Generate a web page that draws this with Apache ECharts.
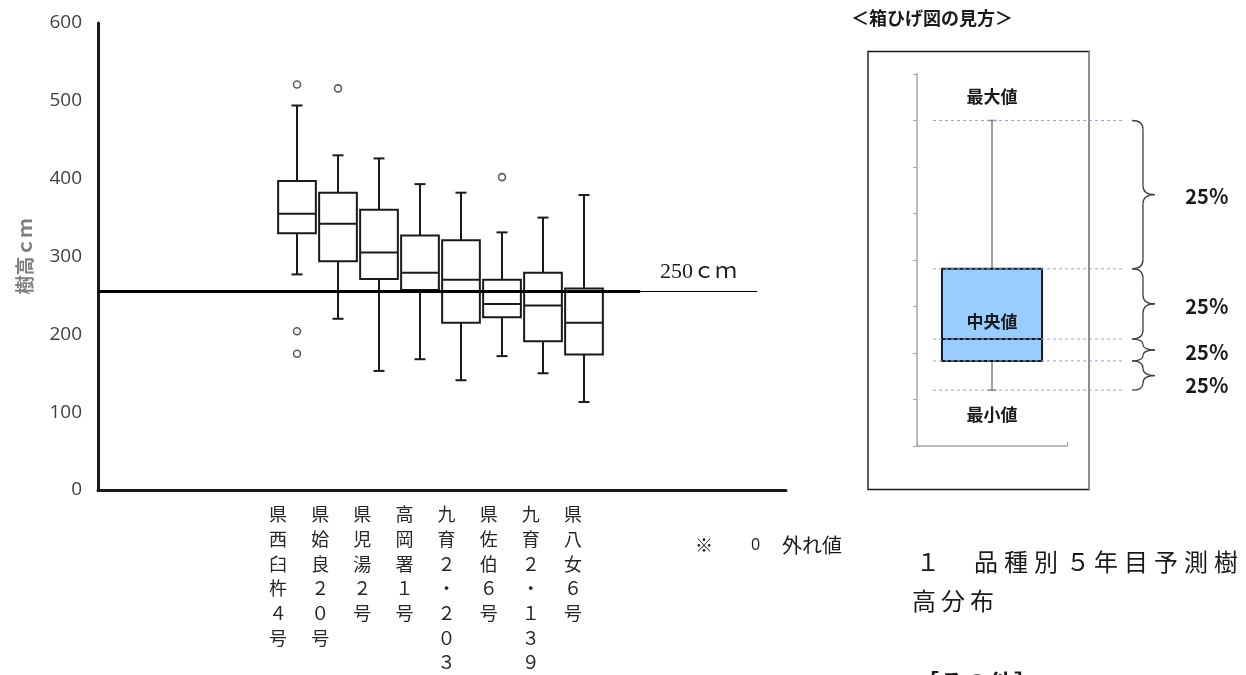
<!DOCTYPE html>
<html><head><meta charset="utf-8">
<script src="https://cdn.jsdelivr.net/npm/echarts@6/dist/echarts.min.js"></script>
<style>html,body{margin:0;padding:0;background:#fff}#c{width:1246px;height:675px}</style>
</head><body><div id="c"></div>
<script>
// ---- data ----
const categories = ['県西臼杵４号','県姶良２０号','県児湯２号','高岡署１号','九育２・２０３','県佐伯６号','九育２・１３９','県八女６号'];
const whiskerLow  = [277, 220, 153, 168, 141, 172, 150, 113];
const q1          = [330, 294, 271, 257, 215, 222, 191, 174];
const median      = [355, 342, 305, 279, 270, 239, 237, 215];
const q3          = [397, 382, 360, 327, 321, 270, 279, 259];
const whiskerHigh = [494, 430, 426, 393, 382, 331, 350, 379];
const outlierCat  = [0, 0, 0, 1, 5];
const outlierVal  = [521, 204, 175, 516, 402];
const yMin = 0, yMax = 600, yInterval = 100;
const refLineValue = 255;
const refLineLabel = '250ｃｍ';
const yAxisTitle = '樹高ｃｍ';
// legend (how to read a box plot) example: min, Q1, median, Q3, max
const insetStats = [1.2, 1.83, 2.30, 3.81, 7.0];
const insetMin = 0, insetMax = 8, insetInterval = 1;
const insetLabels = ['最大値', '中央値', '最小値'];
const insetShare = '25％';
const insetTitle = '＜箱ひげ図の見方＞';
const captionLines = ['１　品種別５年目予測樹', '高分布'];
const nextHeading = '［その他］';

const boxData = categories.map((c, i) => [i, whiskerLow[i], q1[i], median[i], q3[i], whiskerHigh[i]]);
const outlierData = outlierCat.map((c, i) => [c, outlierVal[i]]);

function boxRenderer(opt) {
  return function (params, api) {
    const i = api.value(0);
    const pLow = api.coord([i, api.value(1)]);
    const pQ1 = api.coord([i, api.value(2)]);
    const pMed = api.coord([i, api.value(3)]);
    const pQ3 = api.coord([i, api.value(4)]);
    const pHigh = api.coord([i, api.value(5)]);
    const bw = api.size([1, 0])[0] * opt.ratio;
    const x = pMed[0];
    const wStyle = { stroke: opt.whisker, lineWidth: opt.whiskerWidth };
    const bStyle = { stroke: opt.stroke, lineWidth: opt.lineWidth, fill: opt.fill };
    return {
      type: 'group',
      children: [
        { type: 'line', shape: { x1: x, y1: pQ3[1], x2: x, y2: pHigh[1] }, style: wStyle },
        { type: 'line', shape: { x1: x, y1: pQ1[1], x2: x, y2: pLow[1] }, style: wStyle },
        { type: 'line', shape: { x1: x - opt.cap / 2, y1: pHigh[1], x2: x + opt.cap / 2, y2: pHigh[1] }, style: wStyle },
        { type: 'line', shape: { x1: x - opt.cap / 2, y1: pLow[1], x2: x + opt.cap / 2, y2: pLow[1] }, style: wStyle },
        { type: 'rect', shape: { x: x - bw / 2, y: pQ3[1], width: bw, height: pQ1[1] - pQ3[1] }, style: bStyle },
        { type: 'line', shape: { x1: x - bw / 2, y1: pMed[1], x2: x + bw / 2, y2: pMed[1] }, style: { stroke: opt.stroke, lineWidth: opt.lineWidth } }
      ]
    };
  };
}

const chart = echarts.init(document.getElementById('c'), null, { renderer: 'canvas' });
const option = {
  backgroundColor: '#fff',
  animation: false,
  grid: [
    { left: 98, top: 23, width: 688, height: 467 },   // axes frame
    { left: 276.5, top: 23, width: 328, height: 467 }, // boxes
    { left: 257, top: 23, width: 337, height: 467 },   // category labels
    { left: 917, top: 74, width: 150, height: 372 }    // inset example
  ],
  xAxis: [
    { gridIndex: 0, type: 'value', min: 0, max: 100,
      axisLine: { show: true, lineStyle: { color: '#1a1a1a', width: 3 } },
      axisTick: { show: false }, axisLabel: { show: false }, splitLine: { show: false } },
    { gridIndex: 1, type: 'category', data: categories, show: false },
    { gridIndex: 2, type: 'category', data: categories,
      axisLine: { show: false }, axisTick: { show: false }, splitLine: { show: false },
      axisLabel: { interval: 0, margin: 14, fontSize: 18, lineHeight: 24.7, color: '#262626',
        fontFamily: 'Noto Sans CJK JP', verticalAlign: 'top',
        formatter: v => Array.from(v).join('\n') } },
    { gridIndex: 3, type: 'category', data: ['例'],
      axisLine: { show: true, lineStyle: { color: '#a6a6a6', width: 1.5 } },
      axisTick: { show: true, inside: true, length: 4, lineStyle: { color: '#a6a6a6' } },
      axisLabel: { show: false } }
  ],
  yAxis: [
    { gridIndex: 0, type: 'value', min: yMin, max: yMax, interval: yInterval,
      name: yAxisTitle, nameLocation: 'middle', nameGap: 64,
      nameTextStyle: { fontSize: 19, fontWeight: 'bold', color: '#7f7f7f', fontFamily: 'Noto Sans CJK JP' },
      axisLine: { show: true, lineStyle: { color: '#1a1a1a', width: 3 } },
      axisTick: { show: false }, splitLine: { show: false },
      axisLabel: { margin: 16, fontSize: 19, color: '#404040', fontFamily: 'Open Sans' } },
    { gridIndex: 1, type: 'value', min: yMin, max: yMax, show: false },
    { gridIndex: 2, type: 'value', min: yMin, max: yMax, show: false },
    { gridIndex: 3, type: 'value', min: insetMin, max: insetMax, interval: insetInterval,
      axisLine: { show: true, lineStyle: { color: '#a6a6a6', width: 1.5 } },
      axisTick: { show: true, length: 4, lineStyle: { color: '#a6a6a6' } },
      axisLabel: { show: false }, splitLine: { show: false } }
  ],
  series: [
    { type: 'custom', xAxisIndex: 1, yAxisIndex: 1, z: 2,
      renderItem: boxRenderer({ ratio: 0.92, cap: 11, whisker: '#1a1a1a', whiskerWidth: 2,
        stroke: '#1a1a1a', lineWidth: 2, fill: 'rgba(255,255,255,0)' }),
      encode: { x: 0, y: [1, 2, 3, 4, 5] }, data: boxData },
    { type: 'scatter', xAxisIndex: 1, yAxisIndex: 1, z: 3, symbol: 'circle', symbolSize: 7,
      itemStyle: { color: '#fff', borderColor: '#333', borderWidth: 1.6 }, data: outlierData },
    { type: 'line', xAxisIndex: 0, yAxisIndex: 0, data: [], z: 5,
      markLine: { silent: true, symbol: 'none', animation: false,
        data: [
          [ { coord: [0, refLineValue], lineStyle: { color: '#000', width: 3, type: 'solid' }, label: { show: false } },
            { coord: [78.8, refLineValue] } ],
          [ { coord: [78.8, refLineValue], lineStyle: { color: '#000', width: 1.2, type: 'solid' },
              label: { show: true, position: 'middle', formatter: refLineLabel, distance: 8,
                fontSize: 22, color: '#1a1a1a', fontFamily: 'Liberation Serif, Noto Sans CJK JP' } },
            { coord: [95.8, refLineValue] } ]
        ] } },
    { type: 'custom', xAxisIndex: 3, yAxisIndex: 3, z: 4,
      renderItem: boxRenderer({ ratio: 0.667, cap: 9, whisker: '#7f7f7f', whiskerWidth: 1.5,
        stroke: '#1a1a1a', lineWidth: 2, fill: '#99CCFF' }),
      encode: { x: 0, y: [1, 2, 3, 4, 5] }, data: [[0].concat(insetStats)] }
  ]
};
chart.setOption(option);

// ---- annotations (inset guides, braces, notes) ----
const yOf = v => chart.convertToPixel({ gridIndex: 3 }, [0, v])[1];
const guides = [insetStats[4], insetStats[3], insetStats[2], insetStats[1], insetStats[0]].map(yOf);
const g = [];
g.push({ type: 'rect', shape: { x: 868, y: 51.5, width: 221, height: 438 },
  style: { fill: 'none', stroke: '#1a1a1a', lineWidth: 1.4 }, z: 1 });
g.push({ type: 'line', shape: { x1: 1089, y1: 51.5, x2: 1089, y2: 489.5 },
  style: { stroke: '#9a9a9a', lineWidth: 1.6 }, z: 2 });
guides.forEach(y => g.push({ type: 'line', shape: { x1: 933, y1: y, x2: 1123, y2: y },
  style: { stroke: '#8eaadb', lineWidth: 1, lineDash: [3, 3] }, z: 10 }));
const braceStyle = { fill: 'none', stroke: '#404040', lineWidth: 1.3 };
for (let k = 0; k < 4; k++) {
  const y0 = guides[k], y1 = guides[k + 1], m = (y0 + y1) / 2;
  const r = Math.min(9, (y1 - y0) / 4);
  const x0 = 1132, xm = 1143, xt = 1155;
  g.push({ type: 'group', z: 10, children: [
    { type: 'bezierCurve', shape: { x1: x0, y1: y0, x2: xm, y2: y0 + r, cpx1: xm, cpy1: y0 }, style: braceStyle },
    { type: 'line', shape: { x1: xm, y1: y0 + r, x2: xm, y2: m - r }, style: braceStyle },
    { type: 'bezierCurve', shape: { x1: xm, y1: m - r, x2: xt, y2: m, cpx1: xm, cpy1: m }, style: braceStyle },
    { type: 'bezierCurve', shape: { x1: xt, y1: m, x2: xm, y2: m + r, cpx1: xm, cpy1: m }, style: braceStyle },
    { type: 'line', shape: { x1: xm, y1: m + r, x2: xm, y2: y1 - r }, style: braceStyle },
    { type: 'bezierCurve', shape: { x1: xm, y1: y1 - r, x2: x0, y2: y1, cpx1: xm, cpy1: y1 }, style: braceStyle }
  ] });
  g.push({ type: 'text', x: 1207, y: m + (k === 3 ? 10 : 2), z: 10,
    style: { text: insetShare, fontSize: 20, fontWeight: 'bold', fill: '#1a1a1a', align: 'center', verticalAlign: 'middle',
      fontFamily: 'Noto Sans CJK JP' } });
}
const boxX = chart.convertToPixel({ gridIndex: 3 }, [0, 0])[0];
const insetLabelY = [97, 322, 415];
insetLabels.forEach((t, k) => g.push({ type: 'text', x: boxX, y: insetLabelY[k], z: 10,
  style: { text: t, fontSize: 17, fontWeight: 'bold', fill: '#1a1a1a', align: 'center', verticalAlign: 'middle', fontFamily: 'Noto Sans CJK JP' } }));
g.push({ type: 'text', x: 851, y: 18, style: { text: insetTitle, fontSize: 18, fontWeight: 'bold', fill: '#1a1a1a', verticalAlign: 'middle', fontFamily: 'Noto Sans CJK JP' } });
// outlier note
g.push({ type: 'text', x: 695, y: 545, style: { text: '※', fontSize: 18, fill: '#1a1a1a', verticalAlign: 'middle', fontFamily: 'Noto Sans CJK JP' } });
g.push({ type: 'text', x: 751, y: 545, style: { text: '0', fontSize: 16, fill: '#1a1a1a', verticalAlign: 'middle', fontFamily: 'Open Sans' } });
g.push({ type: 'text', x: 782, y: 545, style: { text: '外れ値', fontSize: 20, fill: '#1a1a1a', verticalAlign: 'middle', fontFamily: 'Noto Sans CJK JP' } });
// caption: document text with wide character pitch (one element per character)
const captionStyle = { fontSize: 24, fill: '#1a1a1a', verticalAlign: 'middle', fontFamily: 'Liberation Serif, Noto Sans CJK JP' };
const captionLayout = [{ x: 914, y: 565, pitch: 30 }, { x: 912, y: 604, pitch: 29 }];
captionLines.forEach((line, li) => {
  Array.from(line).forEach((ch, ci) => g.push({ type: 'text',
    x: captionLayout[li].x + ci * captionLayout[li].pitch + (/[0-9０-９]/.test(ch) ? 2 : 0), y: captionLayout[li].y,
    style: Object.assign({ text: ch }, captionStyle) }));
});
g.push({ type: 'text', x: 914, y: 683, style: { text: nextHeading, fontSize: 25, fontWeight: 'bold', fill: '#1a1a1a', verticalAlign: 'middle', fontFamily: 'Noto Sans CJK JP' } });
chart.setOption({ graphic: g });
</script>
</body></html>
